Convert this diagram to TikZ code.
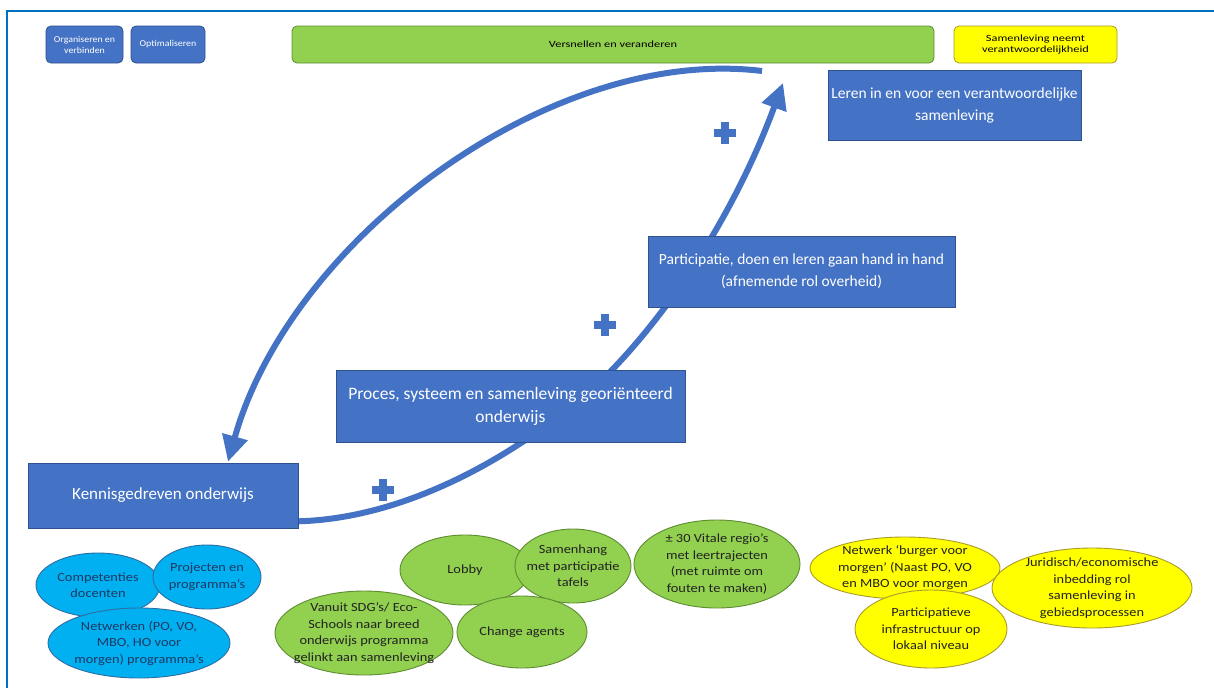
\documentclass[tikz,border=0pt]{standalone}
\usepackage{fontspec}
\setmainfont{Carlito}
\newfontfamily\widefont[FakeStretch=1.15]{Carlito}
\newfontfamily\topfont[FakeStretch=1.3]{Carlito}
\newfontfamily\smallwide[FakeStretch=1.1]{Carlito}
\usetikzlibrary{arrows.meta,shapes.geometric,calc}
\definecolor{boxblue}{HTML}{4472C4}
\definecolor{boxedge}{HTML}{2F528F}
\definecolor{framecol}{HTML}{0070C0}
\definecolor{lgreen}{HTML}{92D050}
\definecolor{gedge}{HTML}{5E8C31}
\definecolor{lyellow}{HTML}{FFFF00}
\definecolor{yedge}{HTML}{A89B2A}
\definecolor{cyanb}{HTML}{00B0F0}
\definecolor{cedge}{HTML}{2E6DA4}
\definecolor{navy}{HTML}{1F3864}
\definecolor{dtext}{HTML}{222222}
\pgfdeclarelayer{bg}
\pgfsetlayers{bg,main}
\begin{document}
\begin{tikzpicture}[x=1pt,y=-1pt,
  topbox/.style={rounded corners=5pt, line width=0.8pt, minimum height=37pt, align=center, inner sep=1pt, font=\topfont\fontsize{9.5}{11}\selectfont},
  bluetop/.style={topbox, fill=boxblue, draw=boxedge, text=white, font=\smallwide\fontsize{9}{11}\selectfont},
  bigbox/.style={fill=boxblue, draw=boxedge, line width=0.6pt, text=white, align=center, inner sep=2pt, font=\fontsize{15.5}{22}\selectfont},
  ell/.style={ellipse, inner sep=-30pt, line width=0.9pt, align=center, font=\widefont\fontsize{12.5}{16.5}\selectfont},
  bell/.style={ell, fill=cyanb, draw=cedge, text=navy},
  gell/.style={ell, fill=lgreen, draw=gedge, text=dtext},
  yell/.style={ell, fill=lyellow, draw=yedge, text=dtext},
  flow/.style={draw=boxblue, line width=6pt, -{Triangle[length=26pt,width=25pt]}},
  plussign/.pic={\fill[boxblue] (-11,-4) rectangle (11,4); \fill[boxblue] (-4,-11) rectangle (4,11);}
]
\useasboundingbox (0,0) rectangle (1214,688);
\draw[framecol, line width=2pt] (7,688) -- (7,11) -- (1214,11);

% top bar
\node[bluetop, minimum width=77pt] (org) at (84.5,44.5) {Organiseren en\\verbinden};
\node[bluetop, minimum width=74pt] (opt) at (168,44.5) {Optimaliseren};
\node[topbox, fill=lgreen, draw=gedge, text=black, minimum width=642pt] (vers) at (613,44.5) {Versnellen en veranderen};
\node[topbox, fill=lyellow, draw=yedge, text=black, minimum width=163pt] (samn) at (1035.5,44.5) {Samenleving neemt\\verantwoordelijkheid};

% main boxes
\node[bigbox, minimum width=253pt, minimum height=70pt] (leren) at (954.5,105) {Leren in en voor een verantwoordelijke\\samenleving};
\node[bigbox, minimum width=307pt, minimum height=71pt] (part) at (801.5,271.5) {Participatie, doen en leren gaan hand in hand\\(afnemende rol overheid)};
\node[bigbox, minimum width=349pt, minimum height=72pt, font=\fontsize{17.5}{23}\selectfont] (proces) at (510.5,406) {Proces, systeem en samenleving georiënteerd\\onderwijs};
\node[bigbox, minimum width=270pt, minimum height=65pt, font=\fontsize{17}{22}\selectfont] (kennis) at (163,495.5) {Kennisgedreven onderwijs};

\coordinate (a1s) at (762,71);
\coordinate (a2e) at (783,83);
\begin{pgfonlayer}{bg}
\fill[white] (0,0) rectangle (1214,688);
\draw[flow] (a1s) .. controls (550,45) and (290,240) .. ($(kennis.north)+(65,-1)$);
\draw[flow] ($(kennis.south east)+(0,-7)$) .. controls (420,518) and (540,440) .. (610,372)
  .. controls (680,300) and (740,200) .. (a2e);
\end{pgfonlayer}

\pic at (725,133) {plussign};
\pic at (605,325) {plussign};
\pic at (383,490) {plussign};

% blue ellipses
\node[bell, minimum width=124pt, minimum height=64pt] (comp) at (98,585) {Competenties\\docenten};
\node[bell, minimum width=108pt, minimum height=64pt] (proj) at (207,577) {Projecten en\\programma’s};
\node[bell, minimum width=182pt, minimum height=70pt] (netw) at (139,643) {Netwerken (PO, VO,\\MBO, HO voor\\morgen) programma’s};

% green ellipses
\node[gell, minimum width=130pt, minimum height=70pt] (lobby) at (465,570) {Lobby};
\node[gell, minimum width=116pt, minimum height=74pt] (samen) at (573,566) {Samenhang\\met participatie\\tafels};
\node[gell, minimum width=178pt, minimum height=84pt] (vanuit) at (364,633) {Vanuit SDG’s/ Eco-\\Schools naar breed\\onderwijs programma\\gelinkt aan samenleving};
\node[gell, minimum width=130pt, minimum height=72pt] (change) at (522,632) {Change agents};
\node[gell, minimum width=166pt, minimum height=88pt] (vitale) at (717,564) {± 30 Vitale regio’s\\met leertrajecten\\(met ruimte om\\fouten te maken)};

% yellow ellipses
\node[yell, minimum width=190pt, minimum height=62pt] (netwb) at (905,568) {Netwerk ‘burger voor\\morgen’ (Naast PO, VO\\en MBO voor morgen};
\node[yell, minimum width=152pt, minimum height=78pt] (partinf) at (931,629) {Participatieve\\infrastructuur op\\lokaal niveau};
\node[yell, minimum width=200pt, minimum height=80pt] (jur) at (1092,588) {Juridisch/economische\\inbedding rol\\samenleving in\\gebiedsprocessen};
\end{tikzpicture}
\end{document}
